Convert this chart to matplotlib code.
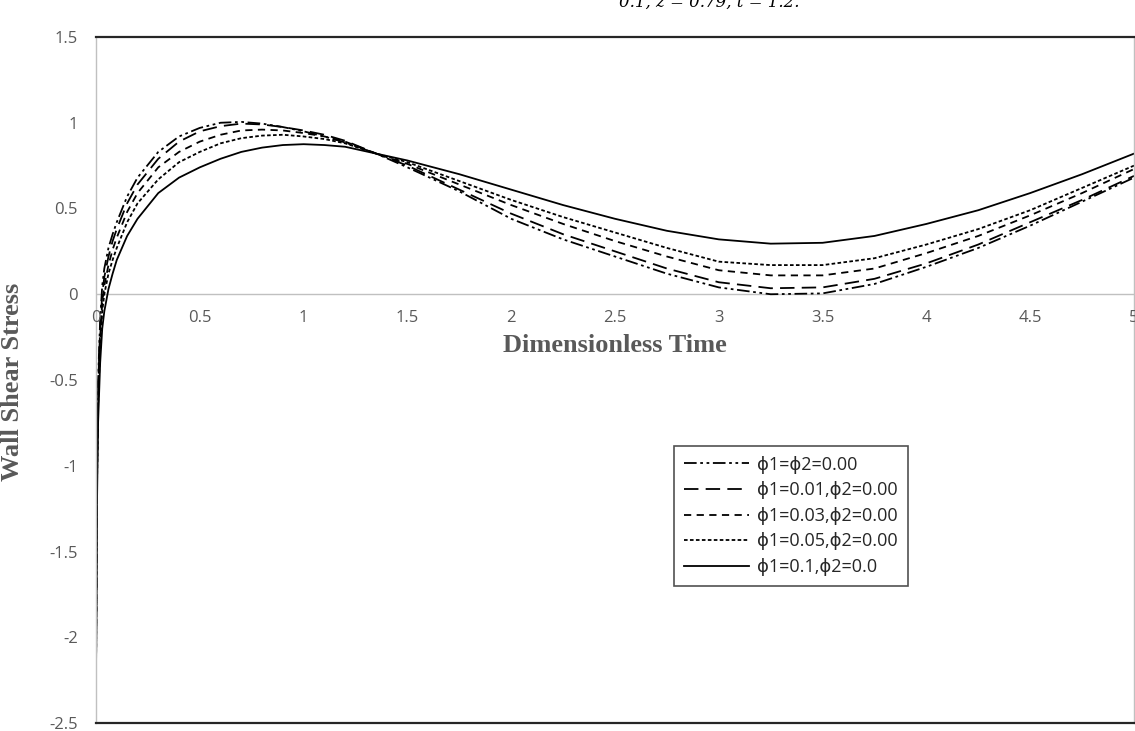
import numpy as np
import matplotlib.pyplot as plt

# dimensionless time samples
t = [0, 0.005, 0.01, 0.02, 0.03, 0.04, 0.06, 0.08, 0.1, 0.15, 0.2, 0.3, 0.4, 0.5, 0.6, 0.7,
     0.8, 0.9, 1.0, 1.1, 1.2, 1.35, 1.5, 1.75, 2.0, 2.25, 2.5, 2.75, 3.0, 3.25, 3.5, 3.75,
     4.0, 4.25, 4.5, 4.75, 5.0]

# wall shear stress, one list per curve
wss_000 = [-2.23, -0.95, -0.5, -0.15, 0.05, 0.15, 0.27, 0.35, 0.42, 0.57, 0.68, 0.83, 0.92, 0.97, 1.0, 1.005,
           0.995, 0.975, 0.95, 0.92, 0.885, 0.82, 0.74, 0.6, 0.44, 0.32, 0.22, 0.12, 0.04, 0.0, 0.005, 0.06,
           0.16, 0.27, 0.4, 0.54, 0.68]
wss_001 = [-2.23, -1.0, -0.55, -0.2, 0.0, 0.1, 0.22, 0.31, 0.38, 0.53, 0.64, 0.79, 0.89, 0.95, 0.98, 0.995,
           0.99, 0.975, 0.955, 0.93, 0.895, 0.82, 0.75, 0.61, 0.47, 0.35, 0.25, 0.15, 0.07, 0.035, 0.04, 0.09,
           0.18, 0.29, 0.42, 0.55, 0.69]
wss_003 = [-2.23, -1.05, -0.6, -0.25, -0.05, 0.05, 0.17, 0.26, 0.33, 0.48, 0.59, 0.74, 0.83, 0.89, 0.93, 0.955,
           0.96, 0.955, 0.94, 0.92, 0.89, 0.82, 0.76, 0.64, 0.52, 0.41, 0.31, 0.22, 0.14, 0.11, 0.11, 0.15,
           0.24, 0.34, 0.46, 0.59, 0.73]
wss_005 = [-2.23, -1.1, -0.65, -0.3, -0.1, 0.0, 0.12, 0.2, 0.27, 0.42, 0.53, 0.67, 0.77, 0.83, 0.88, 0.91,
           0.925, 0.93, 0.92, 0.905, 0.88, 0.82, 0.77, 0.66, 0.55, 0.45, 0.36, 0.27, 0.19, 0.17, 0.17, 0.21,
           0.29, 0.38, 0.49, 0.62, 0.75]
wss_010 = [-2.23, -1.2, -0.75, -0.4, -0.2, -0.1, 0.03, 0.12, 0.2, 0.34, 0.44, 0.59, 0.68, 0.74, 0.79, 0.83,
           0.855, 0.87, 0.875, 0.87, 0.86, 0.82, 0.78, 0.7, 0.61, 0.52, 0.44, 0.37, 0.32, 0.295, 0.3, 0.34,
           0.41, 0.49, 0.59, 0.7, 0.82]

labels = ['ϕ1=ϕ2=0.00', 'ϕ1=0.01,ϕ2=0.00', 'ϕ1=0.03,ϕ2=0.00', 'ϕ1=0.05,ϕ2=0.00', 'ϕ1=0.1,ϕ2=0.0']
series = [wss_000, wss_001, wss_003, wss_005, wss_010]
dashes = [(7, 2, 1.5, 2, 1.5, 2), (8, 4), (4, 3), (2, 1.3), ()]

yticks = [1.5, 1, 0.5, 0, -0.5, -1, -1.5, -2, -2.5]
xticks = [0, 0.5, 1, 1.5, 2, 2.5, 3, 3.5, 4, 4.5, 5]

plt.rcParams['font.family'] = ['Open Sans', 'DejaVu Sans']
grey = '#595959'

fig = plt.figure(figsize=(11.35, 7.31), dpi=100)
ax = fig.add_axes([96/1135, 8/731, 1038/1135, 686/731])

for y, lab, d in zip(series, labels, dashes):
    ln, = ax.plot(t, y, color='black', lw=1.3, label=lab)
    if d:
        ln.set_dashes(d)

ax.set_xlim(0, 5)
ax.set_ylim(-2.5, 1.5)
ax.set_yticks(yticks)
ax.set_yticklabels([f'{v:g}' for v in yticks])
ax.tick_params(axis='y', length=0, pad=13, labelsize=12, labelcolor=grey)
ax.set_xticks([])

for s in ['top', 'bottom']:
    ax.spines[s].set_color('#262626')
    ax.spines[s].set_linewidth(1.6)
for s in ['left', 'right']:
    ax.spines[s].set_color('#c0c0c0')
    ax.spines[s].set_linewidth(1.0)

# horizontal axis crosses at y = 0, labels hang under it
ax.axhline(0, color='#c0c0c0', lw=1.0, zorder=1)
for v in xticks:
    ax.annotate(f'{v:g}', xy=(v, 0), xytext=(0, -24), textcoords='offset pixels',
                ha='center', va='center', fontsize=12, color=grey, annotation_clip=False)

ax.text(2.5, -0.3, 'Dimensionless Time', ha='center', va='center',
        family='Liberation Serif', fontweight='bold', fontsize=19, color=grey)

ax.set_ylabel('Wall Shear Stress', family='Liberation Serif', fontweight='bold',
              fontsize=19, color=grey)
ax.yaxis.set_label_coords(-0.069, 0.497)

leg = ax.legend(loc='lower right', bbox_to_anchor=(908/1135, 1-586/731),
                bbox_transform=fig.transFigure, frameon=True, fancybox=False,
                handlelength=3.6, handletextpad=0.45, labelspacing=0.42,
                borderpad=0.55, borderaxespad=0, fontsize=13)
leg.get_frame().set_edgecolor('#262626')
leg.get_frame().set_linewidth(1.2)
for txt in leg.get_texts():
    txt.set_color('#262626')

# clipped caption from the page above
fig.text(0.625, 0.997, '0.1, z = 0.79, t = 1.2.', ha='center', va='center',
         fontsize=12, style='italic', family='DejaVu Serif')

fig.savefig('out.png', dpi=100)
